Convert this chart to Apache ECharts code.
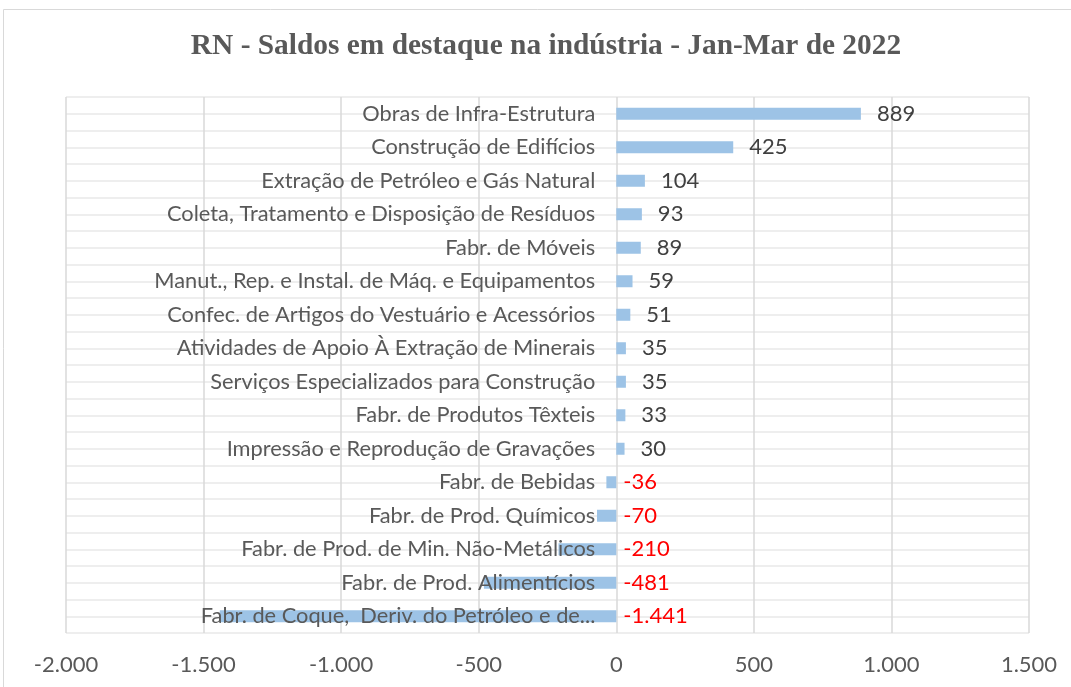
<!DOCTYPE html>
<html>
<head>
<meta charset="utf-8">
<script src="https://cdn.jsdelivr.net/npm/echarts@6/dist/echarts.min.js"></script>
<style>
html,body{margin:0;padding:0;background:#fff;}
#chart{width:1071px;height:687px;}
</style>
</head>
<body>
<div id="chart"></div>
<script>
const titleText = 'RN - Saldos em destaque na indústria - Jan-Mar de 2022';
const categories = [
  'Obras de Infra-Estrutura',
  'Construção de Edifícios',
  'Extração de Petróleo e Gás Natural',
  'Coleta, Tratamento e Disposição de Resíduos',
  'Fabr. de Móveis',
  'Manut., Rep. e Instal. de Máq. e Equipamentos',
  'Confec. de Artigos do Vestuário e Acessórios',
  'Atividades de Apoio À Extração de Minerais',
  'Serviços Especializados para Construção',
  'Fabr. de Produtos Têxteis',
  'Impressão e Reprodução de Gravações',
  'Fabr. de Bebidas',
  'Fabr. de Prod. Químicos',
  'Fabr. de Prod. de Min. Não-Metálicos',
  'Fabr. de Prod. Alimentícios',
  'Fabr. de Coque,  Deriv. do Petróleo e de...'
];
const values = [889, 425, 104, 93, 89, 59, 51, 35, 35, 33, 30, -36, -70, -210, -481, -1441];
const xMin = -2000, xMax = 1500, xStep = 500;

function fmt(v) {
  const s = Math.abs(v).toString().replace(/\B(?=(\d{3})+(?!\d))/g, '.');
  return (v < 0 ? '-' : '') + s;
}

const FONT = 'Lato';
const GRID_LEFT = 66;
const chart = echarts.init(document.getElementById('chart'), null, {renderer: 'canvas'});
chart.setOption({
  backgroundColor: '#ffffff',
  animation: false,
  title: {
    text: titleText,
    left: 541,
    top: 27,
    textAlign: 'center',
    textStyle: {fontFamily: 'Liberation Serif', fontWeight: 'bold', fontSize: 29.4, color: '#595959'}
  },
  graphic: [{
    type: 'rect', silent: true, z: -1,
    shape: {x: 3.5, y: 9.5, width: 1200, height: 800},
    style: {fill: 'none', stroke: '#d9d9d9', lineWidth: 1}
  }],
  grid: {left: GRID_LEFT, right: 42, top: 97, bottom: 54, outerBoundsMode: 'none', containLabel: false},
  xAxis: {
    type: 'value', min: xMin, max: xMax, interval: xStep,
    axisLine: {show: false, onZero: false},
    axisTick: {show: false},
    axisLabel: {margin: 21, fontFamily: FONT, fontSize: 22, color: '#595959', formatter: fmt},
    splitLine: {show: true, lineStyle: {color: '#d9d9d9', width: 1.5}}
  },
  yAxis: [{
    type: 'category', data: categories, inverse: true, z: 10, position: 'left',
    axisLine: {show: false, onZero: false},
    axisTick: {show: false},
    splitLine: {show: false},
    axisLabel: {margin: 21, fontFamily: FONT, fontSize: 21.8, color: '#595959'}
  }, {
    type: 'value', min: 0, max: 32, interval: 1, position: 'right',
    axisLine: {show: false, onZero: false}, axisTick: {show: false}, axisLabel: {show: false},
    splitLine: {show: true, lineStyle: {color: '#e8e8e8', width: 1.5}}
  }],
  series: [{
    type: 'bar',
    yAxisIndex: 0,
    barWidth: 12,
    itemStyle: {color: '#9dc3e6'},
    data: values.map(v => ({
      value: v,
      label: {
        show: true,
        position: 'right',
        distance: v < 0 ? 7 : 16,
        color: v < 0 ? '#ff0000' : '#404040',
        fontFamily: FONT, fontSize: 22,
        formatter: p => fmt(p.value)
      }
    }))
  }]
});
// place the category labels at the value axis zero, using the library's own scale
const zeroX = chart.convertToPixel({xAxisIndex: 0}, 0);
chart.setOption({yAxis: [{offset: -(zeroX - GRID_LEFT)}, {}]});
</script>
</body>
</html>
